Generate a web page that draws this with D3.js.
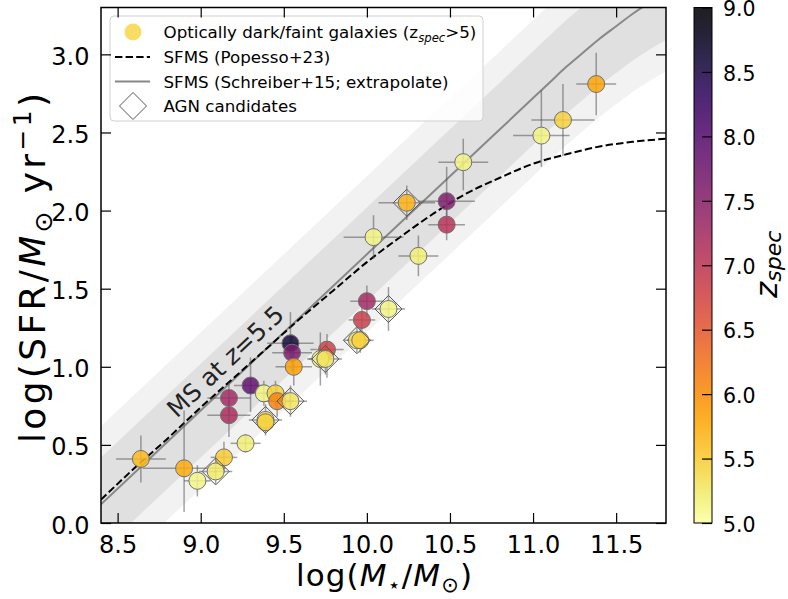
<!DOCTYPE html>
<html><head><meta charset="utf-8">
<script src="https://cdn.jsdelivr.net/npm/d3@7"></script>
<style>body{margin:0;background:#fff;} svg{display:block;font-family:"DejaVu Sans",sans-serif;}</style>
</head><body><svg id="chart" width="788" height="599"></svg>
<script>
// ---- data ----
const massVals = [8.64, 8.90, 8.98, 9.09, 9.14, 9.27, 9.39, 9.39, 9.17, 9.17, 9.30, 9.38, 9.45, 9.46, 9.54, 9.54, 9.55, 9.56, 9.76, 9.72, 9.75, 10.58, 10.24, 10.48, 10.48, 10.04, 10.31, 10.00, 10.13, 9.97, 9.94, 9.96, 11.38, 11.18, 11.05];
const sfrVals  = [0.41, 0.35, 0.27, 0.33, 0.42, 0.51, 0.66, 0.645, 0.80, 0.69, 0.88, 0.83, 0.83, 0.78, 0.78, 1.15, 1.09, 1.00, 1.11, 1.05, 1.05, 2.31, 2.05, 2.06, 1.91, 1.83, 1.71, 1.42, 1.37, 1.30, 1.17, 1.17, 2.81, 2.58, 2.48];
const zspecVals = [5.65, 5.75, 5.12, 5.25, 5.5, 5.2, 5.35, 5.45, 7.25, 7.2, 7.9, 5.15, 5.45, 6.1, 5.3, 8.6, 7.65, 5.85, 6.8, 5.15, 5.3, 5.15, 5.7, 7.6, 7.05, 5.15, 5.2, 7.25, 5.15, 6.85, 5.35, 5.45, 5.8, 5.45, 5.15];
const massErr  = [0.15, 0.25, 0.08, 0.10, 0.08, 0.09, 0.10, 0.06, 0.13, 0.13, 0.10, 0.10, 0.08, 0.10, 0.10, 0.14, 0.12, 0.11, 0.10, 0.08, 0.10, 0.15, 0.17, 0.17, 0.11, 0.18, 0.12, 0.10, 0.10, 0.08, 0.08, 0.08, 0.12, 0.19, 0.17];
const sfrErrLo = [0.15, 0.28, 0.10, 0.08, 0.10, 0.06, 0.10, 0.06, 0.10, 0.14, 0.17, 0.08, 0.08, 0.10, 0.10, 0.12, 0.12, 0.12, 0.18, 0.17, 0.10, 0.18, 0.11, 0.10, 0.10, 0.14, 0.13, 0.10, 0.14, 0.08, 0.08, 0.08, 0.20, 0.23, 0.20];
const sfrErrHi = [0.15, 0.37, 0.10, 0.08, 0.10, 0.06, 0.10, 0.06, 0.10, 0.10, 0.18, 0.08, 0.08, 0.10, 0.10, 0.20, 0.12, 0.12, 0.10, 0.17, 0.10, 0.15, 0.11, 0.22, 0.10, 0.14, 0.13, 0.10, 0.14, 0.08, 0.08, 0.08, 0.20, 0.23, 0.29];
const agnFlag  = [0, 0, 0, 1, 0, 0, 1, 0, 0, 0, 0, 0, 0, 0, 1, 0, 0, 0, 0, 0, 1, 0, 1, 0, 0, 0, 0, 0, 1, 0, 1, 0, 0, 0, 0];

// SFMS curves
const schreiberMass = [8.4, 9.0, 9.5, 10.0, 10.5, 11.0, 11.1, 11.2, 11.3, 11.4, 11.5, 11.6, 11.7, 11.8];
const schreiberSFR  = [0.12, 0.72, 1.22, 1.72, 2.22, 2.72, 2.82, 2.92, 3.01, 3.10, 3.18, 3.26, 3.33, 3.39];
const popessoMass = [8.4, 8.6, 8.8, 9.0, 9.2, 9.4, 9.6, 9.8, 10.0, 10.2, 10.4, 10.6, 10.8, 11.0, 11.2, 11.4, 11.6, 11.8];
const popessoSFR  = [0.15, 0.35, 0.54, 0.74, 0.93, 1.12, 1.31, 1.49, 1.67, 1.83, 1.98, 2.11, 2.21, 2.30, 2.36, 2.41, 2.44, 2.46];
const bandInner = 0.3, bandOuter = 0.5;

const xTicks = [8.5, 9.0, 9.5, 10.0, 10.5, 11.0, 11.5];
const yTicks = [0.0, 0.5, 1.0, 1.5, 2.0, 2.5, 3.0];
const cbTicks = [5.0, 5.5, 6.0, 6.5, 7.0, 7.5, 8.0, 8.5, 9.0];
const zRange = [5, 9];

// ---- drawing ----
const svg = d3.select("#chart");
const L = 101, R = 666, T = 7.5, B = 523;
const x = d3.scaleLinear().domain([8.4, 11.8]).range([L, R]);
const y = d3.scaleLinear().domain([0, 3.3]).range([B, T]);
const cmap = z => d3.interpolateInferno(1 - (z - zRange[0]) / (zRange[1] - zRange[0]));

svg.append("defs").append("clipPath").attr("id", "clip")
  .append("rect").attr("x", L).attr("y", T).attr("width", R - L).attr("height", B - T);
const plot = svg.append("g").attr("clip-path", "url(#clip)");

const sch = schreiberMass.map((m, i) => ({m, s: schreiberSFR[i]}));
const bandArea = d => d3.area().x(p => x(p.m)).y0(p => y(p.s - d)).y1(p => y(p.s + d)).curve(d3.curveMonotoneX);
plot.append("path").attr("d", bandArea(bandOuter)(sch)).attr("fill", "#f2f2f2");
plot.append("path").attr("d", bandArea(bandInner)(sch)).attr("fill", "#e0e0e0");

const line = d3.line().x(p => x(p.m)).y(p => y(p.s)).curve(d3.curveMonotoneX);
plot.append("path").attr("d", line(sch)).attr("fill", "none").attr("stroke", "#888").attr("stroke-width", 2);
const pop = popessoMass.map((m, i) => ({m, s: popessoSFR[i]}));
plot.append("path").attr("d", line(pop)).attr("fill", "none").attr("stroke", "#000").attr("stroke-width", 2).attr("stroke-dasharray", "7.4,3.2");

// MS label
const msText = plot.append("text").attr("transform", "translate(225,361) rotate(-43.2)")
  .attr("text-anchor", "middle").attr("dominant-baseline", "central")
  .attr("font-size", 24.5).attr("fill", "#222");
msText.append("tspan").text("MS at ");
msText.append("tspan").attr("font-style", "italic").text("z");
msText.append("tspan").text("=5.5");

const pts = massVals.map((m, i) => ({m, s: sfrVals[i], z: zspecVals[i], xe: massErr[i], lo: sfrErrLo[i], hi: sfrErrHi[i], agn: agnFlag[i]}));

// error bars
const eb = plot.append("g").attr("stroke", "#555").attr("stroke-opacity", 0.55).attr("stroke-width", 1.5);
pts.forEach(p => {
  eb.append("line").attr("x1", x(p.m - p.xe)).attr("x2", x(p.m + p.xe)).attr("y1", y(p.s)).attr("y2", y(p.s));
  eb.append("line").attr("x1", x(p.m)).attr("x2", x(p.m)).attr("y1", y(p.s - p.lo)).attr("y2", y(p.s + p.hi));
});
// points
plot.append("g").selectAll("circle").data(pts).join("circle")
  .attr("cx", p => x(p.m)).attr("cy", p => y(p.s)).attr("r", 8.5)
  .attr("fill", p => cmap(p.z)).attr("fill-opacity", 0.85)
  .attr("stroke", "#707070").attr("stroke-width", 1);
// AGN diamonds
plot.append("g").selectAll("path").data(pts.filter(p => p.agn)).join("path")
  .attr("d", p => { const cx = x(p.m), cy = y(p.s), h = 13.5; return `M${cx},${cy-h}L${cx+h},${cy}L${cx},${cy+h}L${cx-h},${cy}Z`; })
  .attr("fill", "none").attr("stroke", "#555").attr("stroke-width", 1);

// legend
const lg = svg.append("g");
lg.append("rect").attr("x", 110).attr("y", 16).attr("width", 373).attr("height", 105).attr("rx", 4)
  .attr("fill", "#fff").attr("fill-opacity", 0.8).attr("stroke", "#d0d0d0");
const rows = [32, 57, 81.5, 106];
lg.append("circle").attr("cx", 133).attr("cy", rows[0]).attr("r", 8.5).attr("fill", cmap(5.4)).attr("fill-opacity", 0.85);
lg.append("line").attr("x1", 115).attr("x2", 150).attr("y1", rows[1]).attr("y2", rows[1]).attr("stroke", "#000").attr("stroke-width", 2).attr("stroke-dasharray", "7.4,3.2");
lg.append("line").attr("x1", 115).attr("x2", 150).attr("y1", rows[2]).attr("y2", rows[2]).attr("stroke", "#888").attr("stroke-width", 2);
lg.append("path").attr("d", `M133,${rows[3]-13.5}L146.5,${rows[3]}L133,${rows[3]+13.5}L119.5,${rows[3]}Z`).attr("fill", "none").attr("stroke", "#555");
const lfs = 16.7;
const t1 = lg.append("text").attr("x", 163.5).attr("y", rows[0] + 6).attr("font-size", lfs);
t1.append("tspan").text("Optically dark/faint galaxies (z");
t1.append("tspan").attr("font-style", "italic").attr("font-size", 11.7).attr("dy", 4).text("spec");
t1.append("tspan").attr("dy", -4).text(">5)");
lg.append("text").attr("x", 163.5).attr("y", rows[1] + 6).attr("font-size", lfs).text("SFMS (Popesso+23)");
lg.append("text").attr("x", 163.5).attr("y", rows[2] + 6).attr("font-size", lfs).text("SFMS (Schreiber+15; extrapolate)");
lg.append("text").attr("x", 163.5).attr("y", rows[3] + 6).attr("font-size", lfs).text("AGN candidates");

// axes
const fmt = d3.format(".1f");
const styleAxis = (fs, dy) => g => { g.select(".domain").remove(); g.selectAll(".tick line").attr("stroke", "#000").attr("stroke-width", 1.2); const t = g.selectAll("text").attr("font-size", fs).attr("fill", "#000").attr("font-family", "DejaVu Sans"); if (dy) t.attr("dy", dy); };
svg.append("g").attr("transform", `translate(0,${B})`).call(d3.axisBottom(x).tickValues(xTicks).tickFormat(fmt).tickSize(-10).tickPadding(12.5)).call(styleAxis(24));
svg.append("g").attr("transform", `translate(0,${T})`).call(d3.axisTop(x).tickValues(xTicks).tickFormat("").tickSize(-10)).call(styleAxis(24));
svg.append("g").attr("transform", `translate(${L},0)`).call(d3.axisLeft(y).tickValues(yTicks).tickFormat(fmt).tickSize(-10).tickPadding(11.5)).call(styleAxis(24, "0.42em"));
svg.append("g").attr("transform", `translate(${R},0)`).call(d3.axisRight(y).tickValues(yTicks).tickFormat("").tickSize(-10)).call(styleAxis(24));
svg.append("rect").attr("x", L).attr("y", T).attr("width", R - L).attr("height", B - T).attr("fill", "none").attr("stroke", "#000").attr("stroke-width", 1.5);

// axis labels
const xl = svg.append("text").attr("x", 384).attr("y", 586).attr("text-anchor", "middle").attr("font-size", 31)
  .attr("textLength", 176).attr("lengthAdjust", "spacing");
xl.append("tspan").text("log(");
xl.append("tspan").attr("font-style", "italic").text("M");
xl.append("tspan").attr("font-size", 21).attr("dy", 6).text("⋆");
xl.append("tspan").attr("dy", -6).text("/");
xl.append("tspan").attr("font-style", "italic").text("M");
xl.append("tspan").attr("font-size", 21).attr("dy", 6).text("⊙");
xl.append("tspan").attr("dy", -6).text(")");

const yl = svg.append("text").attr("transform", "translate(45,268) rotate(-90)").attr("text-anchor", "middle").attr("font-size", 36)
  .attr("textLength", 350).attr("lengthAdjust", "spacing");
yl.append("tspan").text("log(SFR/");
yl.append("tspan").attr("font-style", "italic").text("M");
yl.append("tspan").attr("font-size", 25).attr("dy", 7).text("⊙");
yl.append("tspan").attr("dy", -7).text(" yr");
yl.append("tspan").attr("font-size", 25).attr("dy", -14).text("−1");
yl.append("tspan").attr("dy", 14).text(")");

// colorbar
const cbx = 694, cbw = 18;
const cy = d3.scaleLinear().domain(zRange).range([B, T]);
const grad = svg.select("defs").append("linearGradient").attr("id", "cbg").attr("x1", 0).attr("x2", 0).attr("y1", 1).attr("y2", 0);
d3.range(0, 1.0001, 0.05).forEach(t => grad.append("stop").attr("offset", t).attr("stop-color", cmap(zRange[0] + t * (zRange[1] - zRange[0]))).attr("stop-opacity", 0.88));
svg.append("rect").attr("x", cbx).attr("y", T).attr("width", cbw).attr("height", B - T).attr("fill", "url(#cbg)");
svg.append("rect").attr("x", cbx).attr("y", T).attr("width", cbw).attr("height", B - T).attr("fill", "none").attr("stroke", "#000").attr("stroke-width", 1);
svg.append("g").attr("transform", `translate(${cbx + cbw},0)`).call(d3.axisRight(cy).tickValues(cbTicks).tickFormat(fmt).tickSize(-10).tickPadding(11)).call(styleAxis(20.5, "0.4em"));
const zl = svg.append("text").attr("transform", "translate(777,298) rotate(-90)").attr("text-anchor", "start").attr("font-size", 31);
zl.append("tspan").attr("font-style", "italic").text("z");
zl.append("tspan").attr("font-style", "italic").attr("font-size", 22).attr("dy", 4).text("spec");
</script></body></html>
